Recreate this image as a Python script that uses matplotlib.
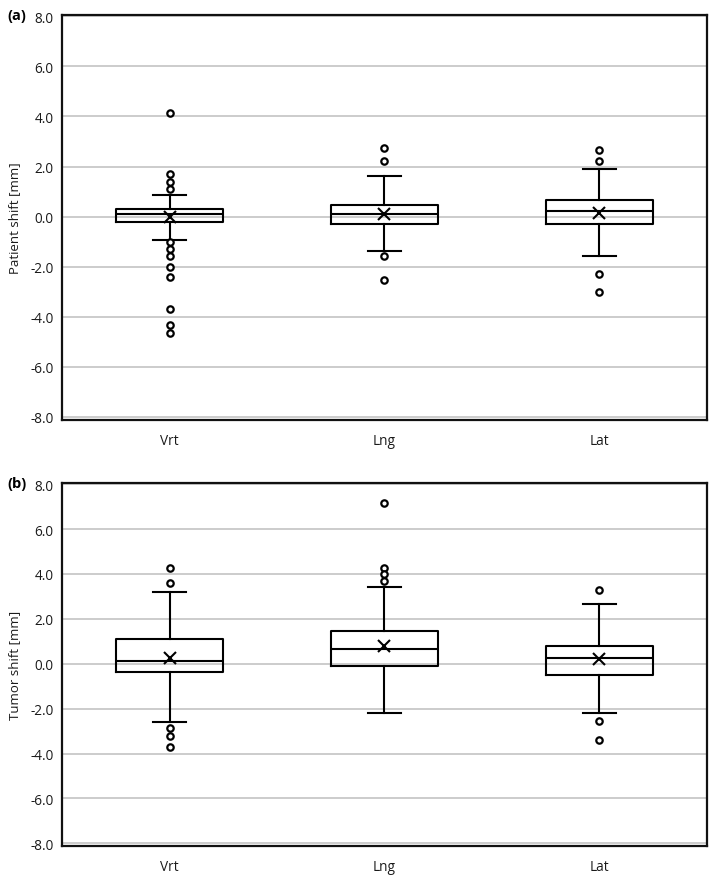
import numpy as np
import matplotlib
matplotlib.use('Agg')
import matplotlib.pyplot as plt

plt.rcParams['font.family'] = ['Open Sans', 'DejaVu Sans']

eixos = ['Vrt', 'Lng', 'Lat']
ticks_y = [8.0, 6.0, 4.0, 2.0, 0.0, -2.0, -4.0, -6.0, -8.0]

# (a) patient shift
paciente_q1 = [-0.21, -0.31, -0.31]
paciente_med = [0.12, 0.12, 0.21]
paciente_q3 = [0.32, 0.46, 0.68]
paciente_wlo = [-0.93, -1.38, -1.58]
paciente_whi = [0.88, 1.61, 1.91]
paciente_media = [-0.03, 0.12, 0.16]
paciente_outliers = [
    [4.15, 1.70, 1.40, 1.09, -1.03, -1.28, -1.59, -2.01, -2.42, -3.70, -4.32, -4.64],
    [2.75, 2.24, -1.59, -2.52],
    [2.64, 2.24, -2.31, -3.00],
]

# (b) tumor shift
tumor_q1 = [-0.39, -0.12, -0.52]
tumor_med = [0.12, 0.65, 0.24]
tumor_q3 = [1.10, 1.45, 0.80]
tumor_wlo = [-2.58, -2.18, -2.18]
tumor_whi = [3.18, 3.44, 2.65]
tumor_media = [0.25, 0.81, 0.19]
tumor_outliers = [
    [4.27, 3.58, -2.86, -3.20, -3.70],
    [7.18, 4.26, 3.98, 3.70],
    [3.27, -2.57, -3.38],
]


def monta_stats(q1, med, q3, wlo, whi, media, outliers):
    stats = []
    for i in range(len(eixos)):
        stats.append({'label': eixos[i], 'q1': q1[i], 'med': med[i], 'q3': q3[i],
                      'whislo': wlo[i], 'whishi': whi[i], 'mean': media[i],
                      'fliers': outliers[i]})
    return stats


def desenha(ax, stats, ylabel, letra):
    ax.set_axisbelow(True)
    for t in ticks_y:
        ax.axhline(t, color='#c8c8c8', lw=1.3, zorder=0)
    linha = dict(color='black', linewidth=1.5)
    ax.bxp(stats, positions=[1, 2, 3], widths=0.5, showmeans=True,
           boxprops=linha, whiskerprops=linha, capprops=linha,
           medianprops=linha, capwidths=0.155,
           meanprops=dict(marker='x', markeredgecolor='black', markersize=9,
                          markeredgewidth=1.5),
           flierprops=dict(marker='o', markerfacecolor='white', markeredgecolor='black',
                           markersize=4.6, markeredgewidth=1.6))
    ax.set_xlim(0.5, 3.5)
    ax.set_ylim(-8.12, 8.05)
    ax.set_yticks(ticks_y)
    ax.set_yticklabels(['{0:.1f}'.format(t) for t in ticks_y])
    ax.set_xticks([1, 2, 3])
    ax.set_xticklabels(eixos)
    ax.tick_params(axis='both', length=0, labelsize=9.8, colors='#1a1a1a')
    ax.tick_params(axis='y', pad=6)
    ax.tick_params(axis='x', pad=9)
    ax.set_ylabel(ylabel, fontsize=9.5, color='#1a1a1a', labelpad=7)
    for s in ax.spines.values():
        s.set_linewidth(1.6)
        s.set_color('#111111')
    ax.text(-0.085, 1.0, letra, transform=ax.transAxes, fontsize=10.5,
            fontweight='bold', ha='left', va='center')


fig = plt.figure(figsize=(7.09, 8.78), dpi=100)
ax1 = fig.add_axes([0.0875, 0.5205, 0.9095, 0.4613])
ax2 = fig.add_axes([0.0875, 0.0353, 0.9095, 0.4134])

desenha(ax1, monta_stats(paciente_q1, paciente_med, paciente_q3, paciente_wlo,
                         paciente_whi, paciente_media, paciente_outliers),
        'Patient shift [mm]', '(a)')
desenha(ax2, monta_stats(tumor_q1, tumor_med, tumor_q3, tumor_wlo,
                         tumor_whi, tumor_media, tumor_outliers),
        'Tumor shift [mm]', '(b)')

fig.savefig('out.png', dpi=100)
